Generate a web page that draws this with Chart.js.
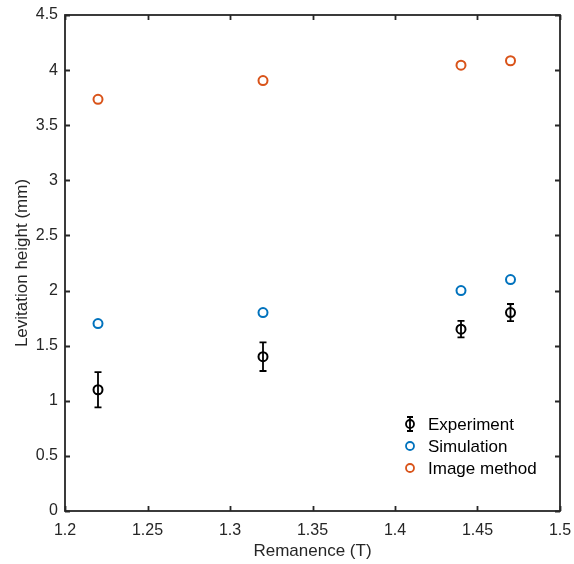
<!DOCTYPE html>
<html><head><meta charset="utf-8">
<script src="https://cdn.jsdelivr.net/npm/chart.js@4"></script>
<style>html,body{margin:0;padding:0;background:#fff}#wrap{width:574px;height:564px}</style>
</head><body><div id="wrap"><canvas id="c" width="574" height="564"></canvas></div>
<script>
const remanence = [1.22, 1.32, 1.44, 1.47];
const experiment = [1.10, 1.40, 1.65, 1.80];
const experimentErr = [0.16, 0.13, 0.075, 0.078];
const simulation = [1.70, 1.80, 2.00, 2.10];
const imageMethod = [3.735, 3.905, 4.045, 4.085];
const xTickLabels = ['1.2', '1.25', '1.3', '1.35', '1.4', '1.45', '1.5'];
const yTickLabels = ['0', '0.5', '1', '1.5', '2', '2.5', '3', '3.5', '4', '4.5'];
const seriesNames = ['Experiment', 'Simulation', 'Image method'];
const seriesColors = ['#000000', '#0072BD', '#D95319'];

const FONT = '"Liberation Sans", Arial, Helvetica, sans-serif';
const AXIS = '#262626';

function pts(ys) { return remanence.map((x, i) => ({ x: x, y: ys[i] })); }

const decor = {
  id: 'decor',
  beforeDatasetsDraw(chart) {
    const { ctx, scales: { x, y } } = chart;
    ctx.save();
    ctx.strokeStyle = seriesColors[0];
    ctx.lineWidth = 1.8;
    remanence.forEach((xv, i) => {
      const px = x.getPixelForValue(xv);
      const top = y.getPixelForValue(experiment[i] + experimentErr[i]);
      const bot = y.getPixelForValue(experiment[i] - experimentErr[i]);
      ctx.beginPath();
      ctx.moveTo(px, top); ctx.lineTo(px, bot);
      ctx.moveTo(px - 3.5, top); ctx.lineTo(px + 3.5, top);
      ctx.moveTo(px - 3.5, bot); ctx.lineTo(px + 3.5, bot);
      ctx.stroke();
    });
    ctx.restore();
  },
  afterDraw(chart) {
    const { ctx, chartArea: a, scales: { x, y } } = chart;
    ctx.save();
    ctx.strokeStyle = AXIS;
    ctx.lineWidth = 1.8;
    ctx.strokeRect(a.left, a.top, a.right - a.left, a.bottom - a.top);
    const tl = 5;
    ctx.beginPath();
    x.ticks.forEach(t => {
      const px = Math.round(x.getPixelForValue(t.value)) + 0.5;
      ctx.moveTo(px, a.bottom); ctx.lineTo(px, a.bottom - tl);
      ctx.moveTo(px, a.top); ctx.lineTo(px, a.top + tl);
    });
    y.ticks.forEach(t => {
      const py = Math.round(y.getPixelForValue(t.value)) + 0.5;
      ctx.moveTo(a.left, py); ctx.lineTo(a.left + tl, py);
      ctx.moveTo(a.right, py); ctx.lineTo(a.right - tl, py);
    });
    ctx.stroke();

    // legend
    const lx = 410, tx = 428, rows = [424, 446, 468];
    ctx.font = '17px ' + FONT;
    ctx.textBaseline = 'middle';
    ctx.textAlign = 'left';
    seriesNames.forEach((name, i) => {
      const ry = rows[i];
      ctx.strokeStyle = seriesColors[i];
      ctx.lineWidth = 1.8;
      if (i === 0) {
        ctx.beginPath();
        ctx.moveTo(lx, ry - 7); ctx.lineTo(lx, ry + 7);
        ctx.moveTo(lx - 3, ry - 7); ctx.lineTo(lx + 3, ry - 7);
        ctx.moveTo(lx - 3, ry + 7); ctx.lineTo(lx + 3, ry + 7);
        ctx.stroke();
      }
      ctx.beginPath();
      ctx.arc(lx, ry, 4, 0, Math.PI * 2);
      ctx.stroke();
      ctx.fillStyle = '#000';
      ctx.fillText(name, tx, ry + 1);
    });
    ctx.restore();
  }
};

const mk = (label, ys, color) => ({
  label: label,
  data: pts(ys),
  borderColor: color,
  backgroundColor: 'rgba(0,0,0,0)',
  pointBackgroundColor: 'rgba(0,0,0,0)',
  pointBorderColor: color,
  pointBorderWidth: 2,
  pointRadius: 4.5,
  pointHoverRadius: 4.5,
  showLine: false
});

new Chart(document.getElementById('c'), {
  type: 'scatter',
  data: {
    datasets: [
      mk(seriesNames[0], experiment, seriesColors[0]),
      mk(seriesNames[1], simulation, seriesColors[1]),
      mk(seriesNames[2], imageMethod, seriesColors[2])
    ]
  },
  options: {
    responsive: false,
    devicePixelRatio: 1,
    animation: false,
    layout: { padding: { top: 15, right: 14, left: 0, bottom: 0 } },
    plugins: { legend: { display: false }, tooltip: { enabled: false } },
    scales: {
      x: {
        type: 'linear', min: 1.2, max: 1.5,
        afterFit(s) { s.height = 53; s.paddingLeft = 0; s.paddingRight = 0; },
        ticks: { stepSize: 0.05, padding: 10, color: AXIS, font: { family: FONT, size: 16 },
          callback: (v, i) => xTickLabels[i] },
        grid: { display: false, drawTicks: false },
        border: { display: false },
        title: { display: true, text: 'Remanence (T)', color: AXIS, font: { family: FONT, size: 17 }, padding: { bottom: 2, top: 0 } }
      },
      y: {
        type: 'linear', min: 0, max: 4.5,
        afterFit(s) { s.width = 65; s.paddingTop = 0; s.paddingBottom = 0; },
        ticks: { stepSize: 0.5, padding: 7, color: AXIS, font: { family: FONT, size: 16 },
          callback: (v, i) => yTickLabels[i] },
        grid: { display: false, drawTicks: false },
        border: { display: false },
        title: { display: true, text: 'Levitation height (mm)', color: AXIS, font: { family: FONT, size: 17 }, padding: { top: 12, bottom: 0 } }
      }
    }
  },
  plugins: [decor]
});
</script>
</body></html>
